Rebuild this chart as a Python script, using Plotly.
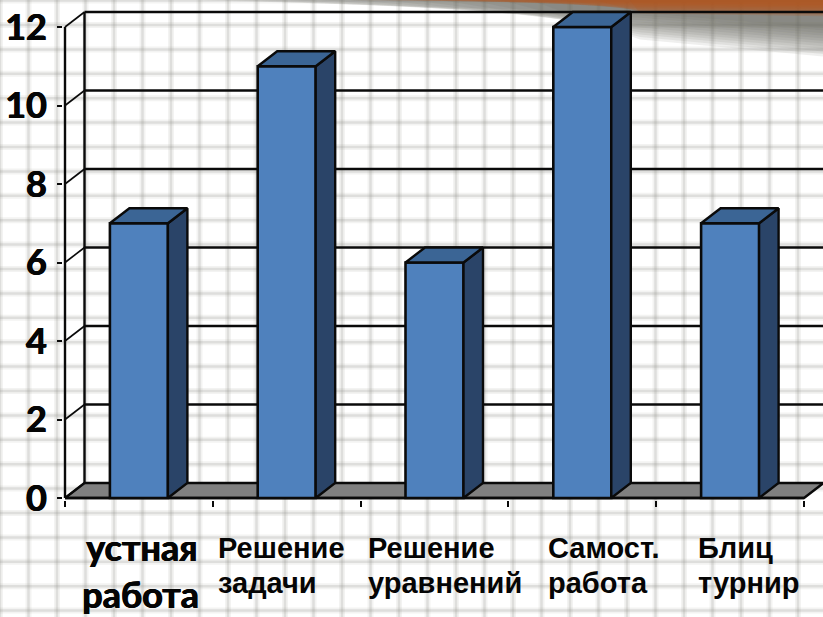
import plotly.graph_objects as go

W, H = 823, 617

# --- data ---
CATEGORIES = ["устная работа", "Решение задачи", "Решение уравнений", "Самост. работа", "Блиц турнир"]
VALUES = [7, 11, 6, 12, 7]
Y_TICKS = [0, 2, 4, 6, 8, 10, 12]

# --- style / geometry (pixels of the page) ---
LEFT, RIGHT, BOTTOM, TOP = 65, 804, 498, 27
X0, X1 = -0.5, 4.5
Y1 = 12
UX = (RIGHT - LEFT) / (X1 - X0)
UY = (BOTTOM - TOP) / Y1
DX = 19.5 / UX
DY = 15 / UY
BAR_W = 58 / UX
PAD = 2
BLACK = "#0a0a0a"
FRONT, TOPC, SIDE, FLOOR = "#4F81BD", "#3B6595", "#2A4468", "#808080"
LABEL_LEFT = [None, 216, 366, 546, 696]
HEAVY = "0.7px 0 0 #050505, -0.3px 0 0 #050505"

# plot area reaches past the front plane so the 3D depth is not clipped
AREA_L, AREA_R, AREA_B, AREA_T = LEFT - PAD, W, BOTTOM + PAD, 8
RANGE_X = [X0 - PAD / UX, X1 + (AREA_R - RIGHT) / UX]
RANGE_Y = [-PAD / UY, (BOTTOM - AREA_T) / UY]


def px(x):
    return x / W


def py(y):
    return 1 - y / H


fig = go.Figure()


def poly(xs, ys, fill, axes=("x", "y"), width=2.4):
    fig.add_trace(go.Scatter(
        x=xs, y=ys, mode="lines", fill="toself", fillcolor=fill,
        line=dict(color=BLACK, width=width), hoverinfo="skip", showlegend=False,
        xaxis=axes[0], yaxis=axes[1]))


def wall_line(xs, ys, width=2.4):
    fig.add_trace(go.Scatter(
        x=xs, y=ys, mode="lines", line=dict(color=BLACK, width=width),
        hoverinfo="skip", showlegend=False))


# floor
poly([X0, X1, X1 + DX, X0 + DX, X0], [0, 0, DY, DY, 0], FLOOR)
# back wall lines and left wall diagonals
for t in Y_TICKS:
    if t > 0:
        wall_line([X0 + DX, RANGE_X[1]], [t + DY, t + DY])
    wall_line([X0, X0 + DX], [t, t + DY], width=1.6)
wall_line([X0 + DX, X0 + DX], [DY, Y1 + DY])
# front axis lines
wall_line([X0, X0], [0, Y1])
wall_line([X0, X1], [0, 0])

# bars in an overlaying subplot so that they sit above the floor and walls
fig.add_trace(go.Bar(
    x=list(range(len(VALUES))), y=VALUES, width=BAR_W,
    marker=dict(color=FRONT, line=dict(color=BLACK, width=2.6)),
    hoverinfo="x+y", showlegend=False, xaxis="x2", yaxis="y2"))
for i, v in enumerate(VALUES):
    l, r = i - BAR_W / 2, i + BAR_W / 2
    poly([r, r + DX, r + DX, r, r], [0, DY, v + DY, v, 0], SIDE, ("x2", "y2"))
    poly([l, l + DX, r + DX, r, l], [v, v + DY, v + DY, v, v], TOPC, ("x2", "y2"))

shapes = []
# graph paper background
STEP_X, STEP_Y = 28.5, 24.4
x = 0.0
while x <= W:
    for w, c in ((6, "rgba(150,150,140,0.11)"), (2.5, "rgba(140,140,135,0.20)")):
        shapes.append(dict(type="line", xref="paper", yref="paper", layer="below",
                           x0=px(x), x1=px(x), y0=0, y1=1, line=dict(color=c, width=w)))
    x += STEP_X
y = 0.6
while y <= H:
    for w, c in ((6, "rgba(150,150,140,0.11)"), (2.5, "rgba(140,140,135,0.20)")):
        shapes.append(dict(type="line", xref="paper", yref="paper", layer="below",
                           x0=0, x1=1, y0=py(y), y1=py(y), line=dict(color=c, width=w)))
    y += STEP_Y

# the blurred shadow and the orange strip at the top right
for k in range(12):
    shapes.append(dict(type="path", xref="paper", yref="paper", layer="below",
                       path=f"M {px(200 + 30 * k)} 1 L 1 1 L 1 {py(28 + 2.6 * k)} L {px(640)} {py(13 + 2.4 * k)} Z",
                       fillcolor="rgba(95,95,90,0.10)", line=dict(width=0)))
for k in range(9):
    shapes.append(dict(type="path", xref="paper", yref="paper", layer="below",
                       path=f"M {px(350 + 35 * k)} 1 L 1 1 L 1 {py(5 + 1.4 * k)} L {px(640)} {py(3 + 1.3 * k)} Z",
                       fillcolor="rgba(178,85,30,0.22)", line=dict(width=0)))

annotations = []
for i, name in enumerate(CATEGORIES):
    first, second = name.split(" ")
    if i == 0:
        font = dict(family="Lato", size=36, color="#050505", weight=700, shadow=HEAVY)
        annotations.append(dict(text=first, x=px(141), y=py(547), xref="paper", yref="paper",
                                xanchor="center", yanchor="middle", showarrow=False, font=font))
        annotations.append(dict(text=second, x=px(140), y=py(594), xref="paper", yref="paper",
                                xanchor="center", yanchor="middle", showarrow=False, font=font))
    else:
        font = dict(family="Liberation Sans", size=29, color="#050505", weight=700)
        annotations.append(dict(text=first, x=px(LABEL_LEFT[i]), y=py(548), xref="paper", yref="paper",
                                xanchor="left", yanchor="middle", showarrow=False, font=font))
        annotations.append(dict(text=second, x=px(LABEL_LEFT[i]), y=py(583), xref="paper", yref="paper",
                                xanchor="left", yanchor="middle", showarrow=False, font=font))

dom_x = [px(AREA_L), px(AREA_R)]
dom_y = [py(AREA_B), py(AREA_T)]
fig.update_layout(
    width=W, height=H, margin=dict(l=0, r=0, t=0, b=0, autoexpand=False),
    paper_bgcolor="#ffffff", plot_bgcolor="rgba(0,0,0,0)", showlegend=False,
    shapes=shapes, annotations=annotations,
    xaxis=dict(domain=dom_x, range=RANGE_X, tickmode="array", automargin=False,
               tickvals=[X0 + n for n in range(len(CATEGORIES) + 1)], showticklabels=False,
               ticks="outside", ticklen=6, tickwidth=2, tickcolor=BLACK,
               showline=False, showgrid=False, zeroline=False),
    yaxis=dict(domain=dom_y, range=RANGE_Y, tickmode="array", tickvals=Y_TICKS, automargin=False,
               tickfont=dict(family="Lato", size=36, color="#050505", weight=700, shadow=HEAVY),
               ticks="outside", ticklen=5, tickwidth=2, tickcolor=BLACK, ticklabelstandoff=3,
               showline=False, showgrid=False, zeroline=False),
    xaxis2=dict(domain=dom_x, range=RANGE_X, overlaying="x", anchor="y2", visible=False),
    yaxis2=dict(domain=dom_y, range=RANGE_Y, overlaying="y", anchor="x2", visible=False),
)
fig.write_html("out.html", config={"displayModeBar": False},
               post_script="document.body.style.margin='0';")
